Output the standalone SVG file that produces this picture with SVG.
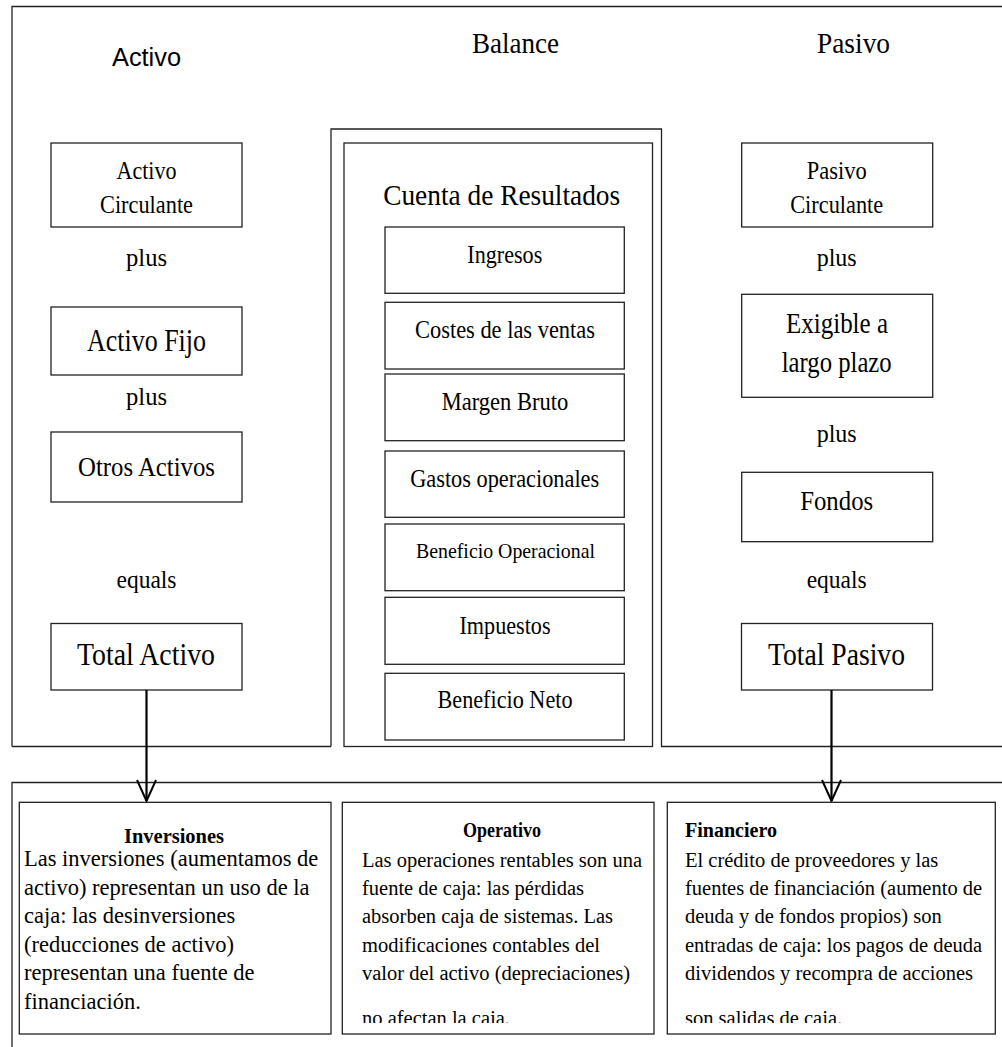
<svg xmlns="http://www.w3.org/2000/svg" width="1002" height="1047" viewBox="0 0 1002 1047">
<style>
.ln{fill:none;stroke:#222;stroke-width:1.3}
.box{fill:#fff;stroke:#222;stroke-width:1.3}
.t{font-family:"Liberation Serif","Times New Roman",serif;fill:#000;text-anchor:middle;font-size:25px}
.h{font-family:"Liberation Sans",Arial,sans-serif;fill:#000;text-anchor:middle;font-size:26px}
.bd{font-family:"Liberation Serif","Times New Roman",serif;fill:#000;font-size:20.5px}
.bi{font-family:"Liberation Serif","Times New Roman",serif;fill:#000;font-size:22.5px}
.bt{font-family:"Liberation Serif","Times New Roman",serif;fill:#000;font-size:20px;font-weight:bold}
.arr{fill:none;stroke:#000;stroke-width:2.2}
</style>
<defs>
<marker id="ah" markerWidth="24" markerHeight="22" refX="22" refY="11" orient="auto" markerUnits="userSpaceOnUse" viewBox="0 0 24 22">
<path d="M1,1.5 L22,11 L1,20.5" fill="none" stroke="#000" stroke-width="2"/>
</marker>
<clipPath id="clipOp"><rect x="342" y="802" width="313" height="221"/></clipPath>
<clipPath id="clipFi"><rect x="667" y="802" width="330" height="221"/></clipPath>
</defs>
<rect width="1002" height="1047" fill="#fff"/>

<g id="frames">
<path class="ln" d="M12,746.5 V6.5 H1010"/>
<path class="ln" d="M12,746.5 H331"/>
<path class="ln" d="M331,746.5 V129 H661.5 V746.5 H1010"/>
<rect class="ln" x="344" y="143" width="308.5" height="603.5"/>
<path class="ln" d="M12,1050 V782.5 H1010"/>
</g>

<g id="headings">
<text class="h" x="146.5" y="66" textLength="69" lengthAdjust="spacingAndGlyphs">Activo</text>
<text class="t" x="515.5" y="52.5" style="font-size:29px" textLength="87" lengthAdjust="spacingAndGlyphs">Balance</text>
<text class="t" x="853.5" y="53" style="font-size:29px" textLength="73" lengthAdjust="spacingAndGlyphs">Pasivo</text>
</g>

<g id="activo-circulante">
<rect class="box" x="51" y="143" width="191" height="84"/>
<text class="t" x="146.5" y="179" textLength="60" lengthAdjust="spacingAndGlyphs">Activo</text>
<text class="t" x="146.5" y="213" textLength="93" lengthAdjust="spacingAndGlyphs">Circulante</text>
</g>
<text class="t" x="146.5" y="266" textLength="41" lengthAdjust="spacingAndGlyphs">plus</text>
<g id="activo-fijo">
<rect class="box" x="51" y="307" width="191" height="68"/>
<text class="t" x="146.5" y="351" style="font-size:31px" textLength="119" lengthAdjust="spacingAndGlyphs">Activo Fijo</text>
</g>
<text class="t" x="146.5" y="405" textLength="41" lengthAdjust="spacingAndGlyphs">plus</text>
<g id="otros-activos">
<rect class="box" x="51" y="432" width="191" height="70"/>
<text class="t" x="146.5" y="476" style="font-size:28px" textLength="137" lengthAdjust="spacingAndGlyphs">Otros Activos</text>
</g>
<text class="t" x="146.5" y="588" textLength="60" lengthAdjust="spacingAndGlyphs">equals</text>
<g id="total-activo">
<rect class="box" x="51" y="623.5" width="191" height="66.5"/>
<text class="t" x="146" y="665" style="font-size:31px" textLength="138" lengthAdjust="spacingAndGlyphs">Total Activo</text>
</g>

<g id="cuenta-resultados">
<text class="t" x="501.7" y="205" style="font-size:30px" textLength="237" lengthAdjust="spacingAndGlyphs">Cuenta de Resultados</text>
</g>
<g id="ingresos">
<rect class="box" x="385" y="227" width="239.3" height="66.3"/>
<text class="t" x="504.8" y="262.7" textLength="75" lengthAdjust="spacingAndGlyphs">Ingresos</text>
</g>
<g id="costes">
<rect class="box" x="385" y="302.3" width="239.3" height="66.7"/>
<text class="t" x="505" y="338.3" textLength="180" lengthAdjust="spacingAndGlyphs">Costes de las ventas</text>
</g>
<g id="margen-bruto">
<rect class="box" x="385" y="374" width="239.3" height="66.7"/>
<text class="t" x="505" y="410" textLength="126.7" lengthAdjust="spacingAndGlyphs">Margen Bruto</text>
</g>
<g id="gastos">
<rect class="box" x="385" y="451" width="239.3" height="66.3"/>
<text class="t" x="504.7" y="486.7" textLength="189" lengthAdjust="spacingAndGlyphs">Gastos operacionales</text>
</g>
<g id="beneficio-operacional">
<rect class="box" x="385" y="524" width="239.3" height="66.7"/>
<text class="t" x="505.5" y="558.3" style="font-size:22px" textLength="179" lengthAdjust="spacingAndGlyphs">Beneficio Operacional</text>
</g>
<g id="impuestos">
<rect class="box" x="385" y="597.3" width="239.3" height="67"/>
<text class="t" x="505" y="634" textLength="91" lengthAdjust="spacingAndGlyphs">Impuestos</text>
</g>
<g id="beneficio-neto">
<rect class="box" x="385" y="673.3" width="239.3" height="66.7"/>
<text class="t" x="505" y="708.3" textLength="135" lengthAdjust="spacingAndGlyphs">Beneficio Neto</text>
</g>

<g id="pasivo-circulante">
<rect class="box" x="741.7" y="143" width="191" height="84"/>
<text class="t" x="836.7" y="179" textLength="60" lengthAdjust="spacingAndGlyphs">Pasivo</text>
<text class="t" x="836.7" y="213" textLength="93" lengthAdjust="spacingAndGlyphs">Circulante</text>
</g>
<text class="t" x="836.7" y="266" textLength="40" lengthAdjust="spacingAndGlyphs">plus</text>
<g id="exigible">
<rect class="box" x="741.7" y="294.3" width="191" height="103"/>
<text class="t" x="837" y="333.3" style="font-size:29px" textLength="102" lengthAdjust="spacingAndGlyphs">Exigible a</text>
<text class="t" x="836.7" y="372" style="font-size:29px" textLength="110" lengthAdjust="spacingAndGlyphs">largo plazo</text>
</g>
<text class="t" x="836.7" y="442" textLength="40" lengthAdjust="spacingAndGlyphs">plus</text>
<g id="fondos">
<rect class="box" x="741.7" y="472.3" width="191" height="69.4"/>
<text class="t" x="836.7" y="510" style="font-size:28px" textLength="73" lengthAdjust="spacingAndGlyphs">Fondos</text>
</g>
<text class="t" x="836.7" y="588" textLength="60" lengthAdjust="spacingAndGlyphs">equals</text>
<g id="total-pasivo">
<rect class="box" x="741.5" y="623.5" width="191" height="66.5"/>
<text class="t" x="836.5" y="665" style="font-size:31px" textLength="137" lengthAdjust="spacingAndGlyphs">Total Pasivo</text>
</g>

<g id="connectors">
<line class="arr" x1="146.5" y1="690" x2="146.5" y2="801" marker-end="url(#ah)"/>
<line class="arr" x1="831.5" y1="690" x2="831.5" y2="801" marker-end="url(#ah)"/>
</g>

<g id="inversiones">
<rect class="box" x="19.3" y="802.3" width="311.7" height="231.7"/>
<text class="bt" x="174" y="843" text-anchor="middle" textLength="100" lengthAdjust="spacingAndGlyphs">Inversiones</text>
<text class="bi" x="24" y="866">Las inversiones (aumentamos de</text>
<text class="bi" x="24" y="894.5">activo) representan un uso de la</text>
<text class="bi" x="24" y="923">caja: las desinversiones</text>
<text class="bi" x="24" y="951.5">(reducciones de activo)</text>
<text class="bi" x="24" y="980">representan una fuente de</text>
<text class="bi" x="24" y="1008.5">financiación.</text>
</g>

<g id="operativo">
<rect class="box" x="342.3" y="802.3" width="311.7" height="231.7"/>
<text class="bt" x="502" y="836.7" text-anchor="middle" textLength="78" lengthAdjust="spacingAndGlyphs">Operativo</text>
<text class="bd" x="362" y="866.5">Las operaciones rentables son una</text>
<text class="bd" x="362" y="895">fuente de caja: las pérdidas</text>
<text class="bd" x="362" y="923">absorben caja de sistemas. Las</text>
<text class="bd" x="362" y="951.5">modificaciones contables del</text>
<text class="bd" x="362" y="980">valor del activo (depreciaciones)</text>
<text class="bd" x="362" y="1024.5" clip-path="url(#clipOp)">no afectan la caja.</text>
</g>

<g id="financiero">
<rect class="box" x="667.3" y="802.3" width="328" height="231.7"/>
<text class="bt" x="685" y="837" textLength="92" lengthAdjust="spacingAndGlyphs">Financiero</text>
<text class="bd" x="685" y="866.5">El crédito de proveedores y las</text>
<text class="bd" x="685" y="895">fuentes de financiación (aumento de</text>
<text class="bd" x="685" y="923">deuda y de fondos propios) son</text>
<text class="bd" x="685" y="951.5">entradas de caja: los pagos de deuda</text>
<text class="bd" x="685" y="980">dividendos y recompra de acciones</text>
<text class="bd" x="685" y="1024.5" clip-path="url(#clipFi)">son salidas de caja.</text>
</g>
</svg>
